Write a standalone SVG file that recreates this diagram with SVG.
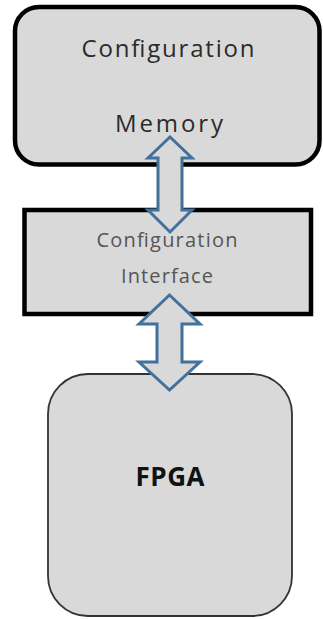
<svg xmlns="http://www.w3.org/2000/svg" width="323" height="619" viewBox="0 0 323 619">
  <style>
    .box { fill: #d9d9d9; }
    .heavy { stroke: #000; stroke-width: 4.5; }
    .light { stroke: #333; stroke-width: 1.8; }
    .label { font-family: "Open Sans", "Liberation Sans", sans-serif; text-anchor: middle; }
    .big { font-size: 24px; fill: #2b2b2b; }
    .small { font-size: 20px; fill: #555; }
    .bold { font-size: 26px; font-weight: bold; fill: #111; }
    .arrow { fill: #d9d9d9; stroke: #41719c; stroke-width: 3; stroke-linejoin: miter; }
  </style>
  <rect width="323" height="619" fill="#fff"/>

  <g id="config-memory">
    <rect class="box heavy" x="15" y="7" width="304.5" height="157.5" rx="24"/>
    <text class="label big" x="168" y="57" textLength="173" lengthAdjust="spacing">Configuration</text>
    <text class="label big" x="169" y="132" textLength="108" lengthAdjust="spacing">Memory</text>
  </g>

  <g id="config-interface">
    <rect class="box heavy" x="24.5" y="210" width="286.5" height="104"/>
    <text class="label small" x="167" y="247" textLength="141" lengthAdjust="spacing">Configuration</text>
    <text class="label small" x="167" y="283" textLength="92" lengthAdjust="spacing">Interface</text>
  </g>

  <g id="fpga">
    <rect class="box light" x="48" y="374" width="244" height="242" rx="40"/>
    <text class="label bold" x="170" y="486" textLength="69" lengthAdjust="spacing">FPGA</text>
  </g>

  <g id="connectors">
    <path class="arrow" d="M170,137 L192,158 L182,158 L182,210 L192,210 L170,232 L148,210 L158,210 L158,158 L148,158 Z"/>
    <path class="arrow" d="M169.5,295 L200,324 L182,324 L182,362 L200,362 L169.5,390 L139,362 L157,362 L157,324 L139,324 Z"/>
  </g>
</svg>
